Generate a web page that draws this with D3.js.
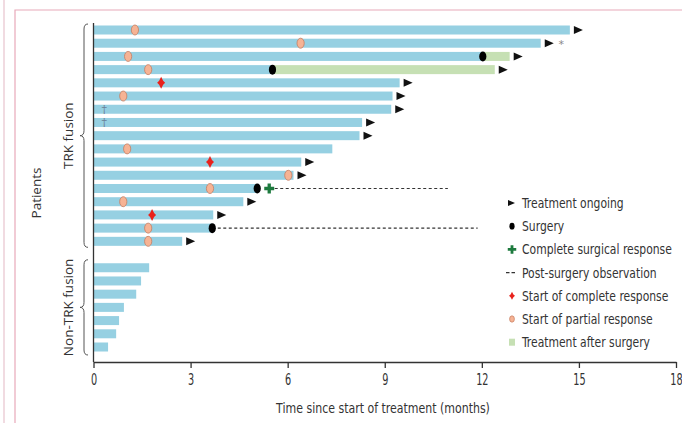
<!DOCTYPE html>
<html>
<head>
<meta charset="utf-8">
<script src="https://cdn.jsdelivr.net/npm/d3@7"></script>
<style>
  body { margin: 0; background: #fff; }
  svg { display: block; }
</style>
</head>
<body>
<script>
// rows top to bottom; "gap" is the blank slot between the two groups
const trkPatients = d3.range(1, 18).map(i => `T${i}`);
const nonTrkPatients = d3.range(1, 8).map(i => `N${i}`);
const rows = [...trkPatients, "gap", ...nonTrkPatients];

// months on treatment before surgery (or total if no surgery)
const trkMonths = [14.72, 13.82, 12.03, 5.53, 9.46, 9.24, 9.2, 8.3, 8.22, 7.38, 6.42, 6.18, 5.06, 4.63, 3.7, 3.66, 2.74];
const nonTrkMonths = [1.72, 1.47, 1.32, 0.94, 0.79, 0.7, 0.45];

// treatment after surgery (green)
const afterSurgery = [
  { id: "T3", from: 12.03, to: 12.86 },
  { id: "T4", from: 5.53, to: 12.4 }
];
const surgery = [
  { id: "T3", m: 12.03 }, { id: "T4", m: 5.53 },
  { id: "T13", m: 5.06 }, { id: "T16", m: 3.67 }
];
const observation = [
  { id: "T13", from: 5.43, to: 10.95 },
  { id: "T16", from: 3.67, to: 11.87 }
];
const surgicalResponse = [{ id: "T13", m: 5.43 }];
const partialResponse = [
  { id: "T1", m: 1.28 }, { id: "T2", m: 6.4 }, { id: "T3", m: 1.07 }, { id: "T4", m: 1.69 },
  { id: "T6", m: 0.92 }, { id: "T10", m: 1.04 }, { id: "T12", m: 6.02 }, { id: "T13", m: 3.6 },
  { id: "T14", m: 0.92 }, { id: "T16", m: 1.69 }, { id: "T17", m: 1.69 }
];
const completeResponse = [{ id: "T5", m: 2.09 }, { id: "T11", m: 3.6 }, { id: "T15", m: 1.81 }];
const ongoing = [
  { id: "T1", m: 14.72 }, { id: "T2", m: 13.82 }, { id: "T3", m: 12.86 }, { id: "T4", m: 12.4 },
  { id: "T5", m: 9.46 }, { id: "T6", m: 9.24 }, { id: "T7", m: 9.2 }, { id: "T8", m: 8.3 },
  { id: "T9", m: 8.22 }, { id: "T11", m: 6.42 }, { id: "T12", m: 6.18 }, { id: "T14", m: 4.63 },
  { id: "T15", m: 3.7 }, { id: "T17", m: 2.74 }
];
const deaths = [{ id: "T7", m: 0.33 }, { id: "T8", m: 0.33 }];
const starred = [{ id: "T2", m: 14.3 }];

const xTicks = [0, 3, 6, 9, 12, 15, 18];
const legendItems = [
  "Treatment ongoing", "Surgery", "Complete surgical response", "Post-surgery observation",
  "Start of complete response", "Start of partial response", "Treatment after surgery"
];

const width = 682;
const height = 423;
const narrow = "'Liberation Sans Narrow', 'DejaVu Sans Condensed', sans-serif";
const blue = "#96d0e2";
const green = "#c6e0b4";

const x = d3.scaleLinear().domain([0, 18]).range([93.5, 676]);
const y = d3.scalePoint().domain(rows).range([30, 347]);
const barH = 9;

const svg = d3.create("svg")
  .attr("width", width)
  .attr("height", height);
document.body.appendChild(svg.node());

// horizontal squeeze factor so the widest text of a set is `target` px wide
function squeeze(sel, target) {
  const w = d3.max(sel.nodes(), n => n.getComputedTextLength());
  return Math.min(1, target / w);
}

// page frame
svg.append("line").attr("x1", 4).attr("x2", 4).attr("y1", 0).attr("y2", height)
  .attr("stroke", "#e3b7c3").attr("stroke-width", 1);
svg.append("path").attr("d", `M15,${height}V10H${width}`)
  .attr("fill", "none").attr("stroke", "#e8a9b9").attr("stroke-width", 1.2);

// bars
const bars = [
  ...trkPatients.map((id, i) => ({ id, m: trkMonths[i] })),
  ...nonTrkPatients.map((id, i) => ({ id, m: nonTrkMonths[i] }))
];
svg.append("g").selectAll("rect").data(bars).join("rect")
  .attr("x", x(0))
  .attr("y", d => y(d.id) - barH / 2)
  .attr("width", d => x(d.m) - x(0))
  .attr("height", barH)
  .attr("fill", blue);

svg.append("g").selectAll("rect").data(afterSurgery).join("rect")
  .attr("x", d => x(d.from))
  .attr("y", d => y(d.id) - barH / 2)
  .attr("width", d => x(d.to) - x(d.from))
  .attr("height", barH)
  .attr("fill", green);

// post-surgery observation
svg.append("g").selectAll("line").data(observation).join("line")
  .attr("x1", d => x(d.from)).attr("x2", d => x(d.to))
  .attr("y1", d => y(d.id)).attr("y2", d => y(d.id))
  .attr("stroke", "#333").attr("stroke-width", 1.2).attr("stroke-dasharray", "3,2.5");

// treatment ongoing arrows
const tri = (cx, cy, w, h) => `M${cx},${cy - h / 2}L${cx + w},${cy}L${cx},${cy + h / 2}Z`;
svg.append("g").selectAll("path").data(ongoing).join("path")
  .attr("d", d => tri(x(d.m) + 4, y(d.id), 9, 8))
  .attr("fill", "#111");

// daggers and star
svg.append("g").selectAll("text").data(deaths).join("text")
  .attr("x", d => x(d.m)).attr("y", d => y(d.id) + 4)
  .attr("text-anchor", "middle")
  .attr("font-family", "'DejaVu Serif', serif").attr("font-size", 11)
  .attr("fill", "#6a7f95").text("†");
svg.append("g").selectAll("text").data(starred).join("text")
  .attr("x", d => x(d.m) + 5).attr("y", d => y(d.id) + 5)
  .attr("text-anchor", "middle")
  .attr("font-family", "'DejaVu Sans', sans-serif").attr("font-size", 11)
  .attr("fill", "#888").text("*");

// markers
svg.append("g").selectAll("ellipse").data(partialResponse).join("ellipse")
  .attr("cx", d => x(d.m)).attr("cy", d => y(d.id))
  .attr("rx", 3.6).attr("ry", 5)
  .attr("fill", "#f6b394").attr("stroke", "#c57e62").attr("stroke-width", 0.8);

svg.append("g").selectAll("ellipse").data(surgery).join("ellipse")
  .attr("cx", d => x(d.m)).attr("cy", d => y(d.id))
  .attr("rx", 3.6).attr("ry", 5)
  .attr("fill", "#000");

svg.append("g").selectAll("path").data(completeResponse).join("path")
  .attr("transform", d => `translate(${x(d.m)},${y(d.id)})`)
  .attr("d", "M0,-6L2,-2L4,0L2,2L0,6L-2,2L-4,0L-2,-2Z")
  .attr("fill", "#e8221c");

svg.append("g").selectAll("path").data(surgicalResponse).join("path")
  .attr("transform", d => `translate(${x(d.m)},${y(d.id)})`)
  .attr("d", d3.symbol(d3.symbolCross, 55)())
  .attr("fill", "#1d7a3e");

// axes
svg.append("line")
  .attr("x1", x(0)).attr("x2", x(0)).attr("y1", 23).attr("y2", 362)
  .attr("stroke", "#333").attr("stroke-width", 1.3);

const xAxis = svg.append("g")
  .attr("transform", "translate(0,362)")
  .call(d3.axisBottom(x).tickValues(xTicks).tickSize(6).tickSizeOuter(0).tickPadding(6));
xAxis.select(".domain").attr("stroke", "#333").attr("stroke-width", 1.3);
xAxis.selectAll(".tick line").attr("stroke", "#333").attr("stroke-width", 1.3);
xAxis.selectAll(".tick text")
  .attr("font-family", narrow).attr("font-size", 15).attr("fill", "#333")
  .attr("transform", "scale(0.72,1)");

const xTitle = svg.append("text")
  .attr("text-anchor", "middle")
  .attr("font-family", narrow).attr("font-size", 14.5).attr("fill", "#333")
  .text("Time since start of treatment (months)");
xTitle.attr("transform", `translate(383,413) scale(${squeeze(xTitle, 214)},1)`);

// braces and group labels
function brace(top, bottom) {
  const mid = (top + bottom) / 2;
  const xa = 88, xb = 84, xt = 80;
  return `M${xa},${top}Q${xb},${top} ${xb},${top + 5}V${mid - 5}Q${xb},${mid} ${xt},${mid}` +
    `Q${xb},${mid} ${xb},${mid + 5}V${bottom - 5}Q${xb},${bottom} ${xa},${bottom}`;
}
const groups = [
  { label: "TRK fusion", top: y("T1") - 6, bottom: y("T17") + 6 },
  { label: "Non-TRK fusion", top: y("N1") - 8, bottom: y("N7") + 8 }
];
svg.append("g").selectAll("path").data(groups).join("path")
  .attr("d", d => brace(d.top, d.bottom))
  .attr("fill", "none").attr("stroke", "#555").attr("stroke-width", 1);
svg.append("g").selectAll("text").data(groups).join("text")
  .attr("transform", d => `translate(73,${(d.top + d.bottom) / 2}) rotate(-90)`)
  .attr("text-anchor", "middle")
  .attr("font-family", "'Open Sans', sans-serif").attr("font-size", 13.5).attr("fill", "#333")
  .text(d => d.label);

svg.append("text")
  .attr("transform", "translate(41,193) rotate(-90)")
  .attr("text-anchor", "middle")
  .attr("font-family", "'Open Sans', sans-serif").attr("font-size", 13.5).attr("fill", "#333")
  .text("Patients");

// legend
const lg = svg.append("g").attr("transform", "translate(512,203)");
const item = lg.selectAll("g").data(legendItems).join("g")
  .attr("transform", (d, i) => `translate(0,${i * 23.2})`);
const legendText = item.append("text")
  .attr("font-family", narrow).attr("font-size", 14.5).attr("fill", "#333")
  .text(d => d);
const kLegend = squeeze(legendText, 150);
legendText.attr("transform", `translate(10,5) scale(${kLegend},1)`);
item.each(function (d, i) {
  const g = d3.select(this);
  if (i === 0) g.append("path").attr("d", tri(-4, 0, 7, 6)).attr("fill", "#111");
  if (i === 1) g.append("ellipse").attr("rx", 2.6).attr("ry", 3.4).attr("fill", "#000");
  if (i === 2) g.append("path").attr("d", d3.symbol(d3.symbolCross, 40)()).attr("fill", "#1d7a3e");
  if (i === 3) g.append("line").attr("x1", -6).attr("x2", 5).attr("stroke", "#333")
    .attr("stroke-width", 1.2).attr("stroke-dasharray", "3.5,2");
  if (i === 4) g.append("path").attr("d", "M0,-4L1.4,-1.4L3,0L1.4,1.4L0,4L-1.4,1.4L-3,0L-1.4,-1.4Z").attr("fill", "#e8221c");
  if (i === 5) g.append("ellipse").attr("rx", 2.4).attr("ry", 3.2)
    .attr("fill", "#f6b394").attr("stroke", "#c57e62").attr("stroke-width", 0.7);
  if (i === 6) g.append("rect").attr("x", -3).attr("y", -3.5).attr("width", 6).attr("height", 7).attr("fill", green);
});
</script>
</body>
</html>
